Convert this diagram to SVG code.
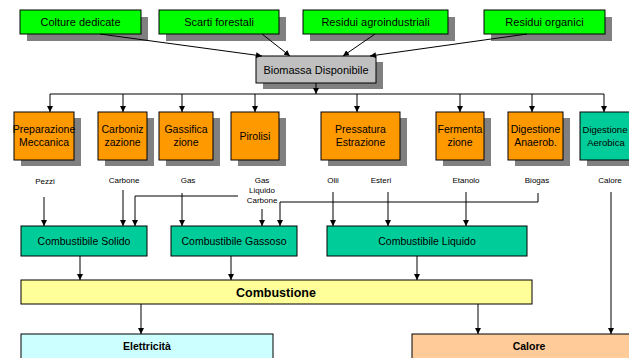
<svg xmlns="http://www.w3.org/2000/svg" width="629" height="358" viewBox="0 0 629 358">
  <defs>
    <marker id="arrow" markerUnits="userSpaceOnUse" markerWidth="6" markerHeight="6" refX="6" refY="3" orient="auto">
      <path d="M0,0 L6,3 L0,6 z" fill="#000"/>
    </marker>
  </defs>
  <style>
    .box { stroke: #000; stroke-width: 1; }
    .shadow { fill: #808080; }
    .green { fill: #00FF00; }
    .grey { fill: #C0C0C0; }
    .orange { fill: #FF9900; }
    .teal { fill: #00CC99; }
    .yellow { fill: #FFFF99; }
    .cyan { fill: #CCFFFF; }
    .peach { fill: #FFCC99; }
    text { font-family: "Liberation Sans", Arial, sans-serif; fill: #000; text-anchor: middle; }
    .t11 { font-size: 11px; }
    .t10 { font-size: 10.5px; }
    .lbl { font-size: 8px; }
    .bold { font-weight: bold; }
    .conn line, .conn polyline, .conn path { stroke: #000; stroke-width: 1; fill: none; }
  </style>
  <rect width="629" height="358" fill="#fff"/>

  <!-- sources -->
  <g id="colture">
    <rect class="shadow" x="27" y="17" width="121" height="24"/>
    <rect class="box green" x="20" y="10" width="121" height="24"/>
    <text class="t11" x="80.5" y="26">Colture dedicate</text>
  </g>
  <g id="scarti">
    <rect class="shadow" x="166" y="17" width="120" height="24"/>
    <rect class="box green" x="159" y="10" width="120" height="24"/>
    <text class="t11" x="219" y="26">Scarti forestali</text>
  </g>
  <g id="agroindustriali">
    <rect class="shadow" x="310" y="17" width="145" height="24"/>
    <rect class="box green" x="303" y="10" width="145" height="24"/>
    <text class="t11" x="375.5" y="26">Residui agroindustriali</text>
  </g>
  <g id="organici">
    <rect class="shadow" x="491" y="17" width="121" height="24"/>
    <rect class="box green" x="484" y="10" width="121" height="24"/>
    <text class="t11" x="544.5" y="26">Residui organici</text>
  </g>

  <!-- pool -->
  <g id="biomassa">
    <rect class="shadow" x="263" y="62" width="120" height="27"/>
    <rect class="box grey" x="256" y="56" width="120" height="27"/>
    <text class="t11" x="316" y="73.5">Biomassa Disponibile</text>
  </g>

  <!-- processes -->
  <g id="preparazione">
    <rect class="shadow" x="21" y="118" width="60" height="48"/>
    <rect class="box orange" x="14" y="112" width="60" height="48"/>
    <text class="t10" x="44" y="133">Preparazione</text>
    <text class="t10" x="44" y="146">Meccanica</text>
  </g>
  <g id="carbonizzazione">
    <rect class="shadow" x="105" y="118" width="49" height="48"/>
    <rect class="box orange" x="98" y="112" width="49" height="48"/>
    <text class="t10" x="122.5" y="133">Carboniz</text>
    <text class="t10" x="122.5" y="146">zazione</text>
  </g>
  <g id="gassificazione">
    <rect class="shadow" x="166" y="118" width="54" height="48"/>
    <rect class="box orange" x="159" y="112" width="54" height="48"/>
    <text class="t10" x="186" y="133">Gassifica</text>
    <text class="t10" x="186" y="146">zione</text>
  </g>
  <g id="pirolisi">
    <rect class="shadow" x="238" y="118" width="48" height="48"/>
    <rect class="box orange" x="231" y="112" width="48" height="48"/>
    <text class="t10" x="255" y="139.5">Pirolisi</text>
  </g>
  <g id="pressatura">
    <rect class="shadow" x="328" y="118" width="79" height="48"/>
    <rect class="box orange" x="321" y="112" width="79" height="48"/>
    <text class="t10" x="360.5" y="133">Pressatura</text>
    <text class="t10" x="360.5" y="146">Estrazione</text>
  </g>
  <g id="fermentazione">
    <rect class="shadow" x="443" y="118" width="48" height="48"/>
    <rect class="box orange" x="436" y="112" width="48" height="48"/>
    <text class="t10" x="460" y="133">Fermenta</text>
    <text class="t10" x="460" y="146">zione</text>
  </g>
  <g id="anaerobica">
    <rect class="shadow" x="515" y="118" width="55" height="48"/>
    <rect class="box orange" x="508" y="112" width="55" height="48"/>
    <text class="t10" x="535.5" y="133">Digestione</text>
    <text class="t10" x="535.5" y="146">Anaerob.</text>
  </g>
  <g id="aerobica">
    <rect class="shadow" x="587" y="118" width="60" height="48"/>
    <rect class="box teal" x="580" y="112" width="60" height="48"/>
    <text x="605" y="133" font-size="9.5">Digestione</text>
    <text x="606" y="146" font-size="9.5">Aerobica</text>
  </g>

  <!-- products -->
  <g id="prodotti">
    <text class="lbl" x="45" y="184">Pezzi</text>
    <text class="lbl" x="124" y="183">Carbone</text>
    <text class="lbl" x="188" y="183">Gas</text>
    <text class="lbl" x="262" y="183">Gas</text>
    <text class="lbl" x="262" y="193">Liquido</text>
    <text class="lbl" x="262" y="203">Carbone</text>
    <text class="lbl" x="333" y="183">Olii</text>
    <text class="lbl" x="381" y="183">Esteri</text>
    <text class="lbl" x="466" y="183">Etanolo</text>
    <text class="lbl" x="537" y="183">Biogas</text>
    <text class="lbl" x="610" y="183">Calore</text>
  </g>

  <!-- fuels -->
  <g id="solido">
    <rect class="box teal" x="21" y="226" width="126" height="30"/>
    <text class="t10" x="84" y="245">Combustibile Solido</text>
  </g>
  <g id="gassoso">
    <rect class="box teal" x="171" y="226" width="126" height="30"/>
    <text class="t10" x="234" y="245">Combustibile Gassoso</text>
  </g>
  <g id="liquido">
    <rect class="box teal" x="327" y="226" width="200" height="30"/>
    <text class="t10" x="427" y="245">Combustibile Liquido</text>
  </g>

  <g id="combustione">
    <rect class="box yellow" x="21" y="280" width="511" height="24"/>
    <text class="bold" x="276" y="296.5" font-size="12.5">Combustione</text>
  </g>

  <g id="elettricita">
    <rect class="box cyan" x="21" y="334" width="252" height="30"/>
    <text class="bold" x="147" y="350" font-size="10.5">Elettricità</text>
  </g>
  <g id="calore">
    <rect class="box peach" x="412" y="334" width="230" height="30"/>
    <text class="bold" x="529" y="350" font-size="10.5">Calore</text>
  </g>

  <!-- connectors -->
  <g class="conn">
    <line x1="100" y1="34" x2="262" y2="56" marker-end="url(#arrow)"/>
    <line x1="262" y1="34" x2="290" y2="56" marker-end="url(#arrow)"/>
    <line x1="375" y1="34" x2="343" y2="56" marker-end="url(#arrow)"/>
    <line x1="527" y1="34" x2="370" y2="56" marker-end="url(#arrow)"/>
    <line x1="316" y1="83" x2="316" y2="94" marker-end="url(#arrow)"/>

    <line x1="50" y1="94" x2="604" y2="94"/>
    <line x1="50" y1="94" x2="50" y2="112" marker-end="url(#arrow)"/>
    <line x1="123" y1="94" x2="123" y2="112" marker-end="url(#arrow)"/>
    <line x1="182" y1="94" x2="182" y2="112" marker-end="url(#arrow)"/>
    <line x1="255" y1="94" x2="255" y2="112" marker-end="url(#arrow)"/>
    <line x1="357" y1="94" x2="357" y2="112" marker-end="url(#arrow)"/>
    <line x1="460" y1="94" x2="460" y2="112" marker-end="url(#arrow)"/>
    <line x1="532" y1="94" x2="532" y2="112" marker-end="url(#arrow)"/>
    <line x1="604" y1="94" x2="604" y2="112" marker-end="url(#arrow)"/>

    <line x1="44" y1="197" x2="44" y2="226" marker-end="url(#arrow)"/>
    <line x1="123" y1="190" x2="123" y2="226" marker-end="url(#arrow)"/>
    <polyline points="238,196 135,196 135,226" marker-end="url(#arrow)"/>
    <line x1="182" y1="193" x2="182" y2="226" marker-end="url(#arrow)"/>
    <line x1="262" y1="209" x2="262" y2="226" marker-end="url(#arrow)"/>
    <polyline points="538,193 538,202 280,202 280,226" marker-end="url(#arrow)"/>
    <line x1="333" y1="192" x2="333" y2="226" marker-end="url(#arrow)"/>
    <line x1="388" y1="192" x2="388" y2="226" marker-end="url(#arrow)"/>
    <line x1="466" y1="192" x2="466" y2="226" marker-end="url(#arrow)"/>

    <line x1="80" y1="256" x2="80" y2="280" marker-end="url(#arrow)"/>
    <line x1="231" y1="256" x2="231" y2="280" marker-end="url(#arrow)"/>
    <line x1="417" y1="256" x2="417" y2="280" marker-end="url(#arrow)"/>

    <line x1="141" y1="304" x2="141" y2="334" marker-end="url(#arrow)"/>
    <line x1="478" y1="304" x2="478" y2="334" marker-end="url(#arrow)"/>
    <line x1="611" y1="192" x2="611" y2="334" marker-end="url(#arrow)"/>
  </g>
</svg>
